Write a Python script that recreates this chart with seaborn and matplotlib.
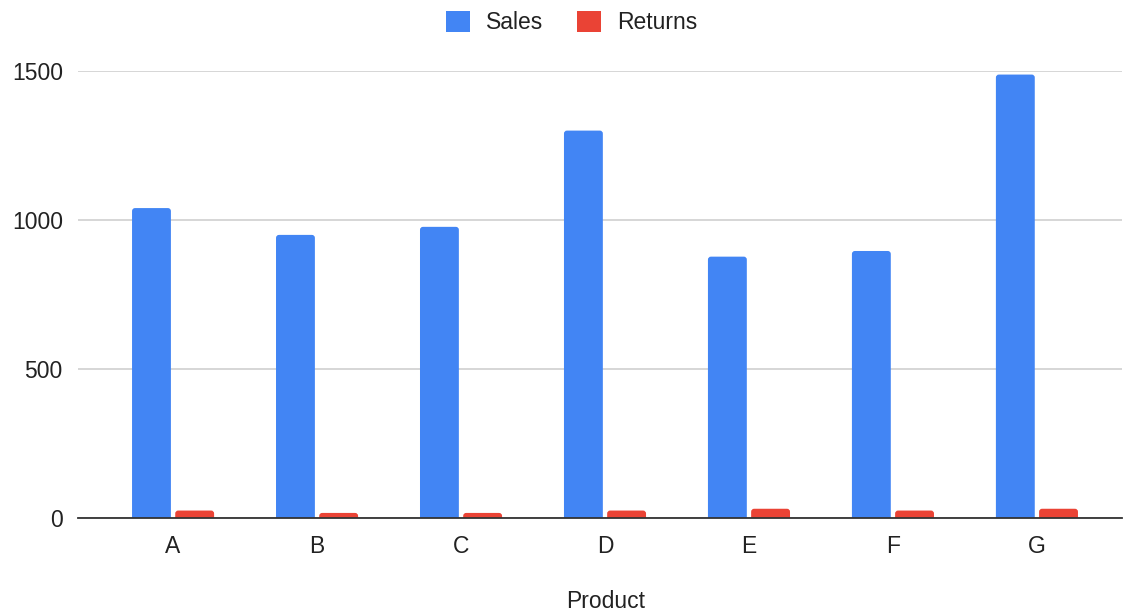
import matplotlib
matplotlib.use("Agg")
import matplotlib.pyplot as plt
import seaborn as sns
import pandas as pd
from matplotlib.patches import Patch, FancyBboxPatch

products = ["A", "B", "C", "D", "E", "F", "G"]
sales = [1040, 950, 977, 1300, 877, 896, 1488]
returns = [25, 17, 17, 25, 31, 25, 31]
series_names = ["Sales", "Returns"]
colors = ["#4285F4", "#EA4335"]

df = pd.DataFrame({
    "Product": products * 2,
    "Value": sales + returns,
    "Series": [series_names[0]] * len(products) + [series_names[1]] * len(products),
})

sns.set_theme(style="white")
plt.rcParams["font.family"] = ["Liberation Sans", "DejaVu Sans"]
FS = 16.5
TXT = "#222222"

fig = plt.figure(figsize=(11.23, 6.12), dpi=100)
ax = fig.add_axes([0.0695, 0.1536, 0.9295, 0.7304])

sns.barplot(data=df, x="Product", y="Value", hue="Series", palette=colors,
            width=0.6, gap=0.1, ax=ax, legend=False, saturation=1)

ax.set_xlim(-0.66, 6.59)
ax.set_ylim(0, 1500)

# Swap the plain rectangles for ones with softly rounded tops
x0, x1 = ax.get_xlim()
y0, y1 = ax.get_ylim()
bbox = ax.get_position()
fig_w, fig_h = fig.get_size_inches() * fig.dpi
px_per_x = bbox.width * fig_w / (x1 - x0)
px_per_y = bbox.height * fig_h / (y1 - y0)
radius_px = 3.0
for p in list(ax.patches):
    x, y = p.get_x(), p.get_y()
    w, h = p.get_width(), p.get_height()
    fc = p.get_facecolor()
    ext = radius_px / px_per_y
    r = FancyBboxPatch((x, y - ext), w, h + ext,
                       boxstyle=f"round,pad=0,rounding_size={radius_px / px_per_x}",
                       mutation_aspect=px_per_x / px_per_y,
                       facecolor=fc, edgecolor="none", zorder=p.get_zorder())
    p.remove()
    ax.add_patch(r)

ax.set_yticks([0, 500, 1000, 1500])
ax.yaxis.grid(True, color="#d3d3d3", linewidth=1.3)
ax.set_axisbelow(True)
for s in ["top", "right", "left"]:
    ax.spines[s].set_visible(False)
ax.spines["bottom"].set_color("#333333")
ax.spines["bottom"].set_linewidth(1.3)
ax.spines["bottom"].set_zorder(5)

ax.tick_params(axis="both", length=0, labelsize=FS, colors=TXT)
ax.tick_params(axis="x", pad=12)
ax.tick_params(axis="y", pad=11)
ax.set_ylabel("")
ax.set_xlabel("Product", fontsize=FS, color=TXT)
ax.xaxis.set_label_coords(0.505, -0.16)

handles = [Patch(facecolor=c, edgecolor="none") for c in colors]
fig.legend(handles, series_names, loc="center", bbox_to_anchor=(0.509, 0.963),
           ncol=2, frameon=False, fontsize=FS, handlelength=1.05, handleheight=1.05,
           handletextpad=0.7, columnspacing=1.45, labelcolor=TXT)

fig.savefig("out.png", dpi=100, facecolor="white")
